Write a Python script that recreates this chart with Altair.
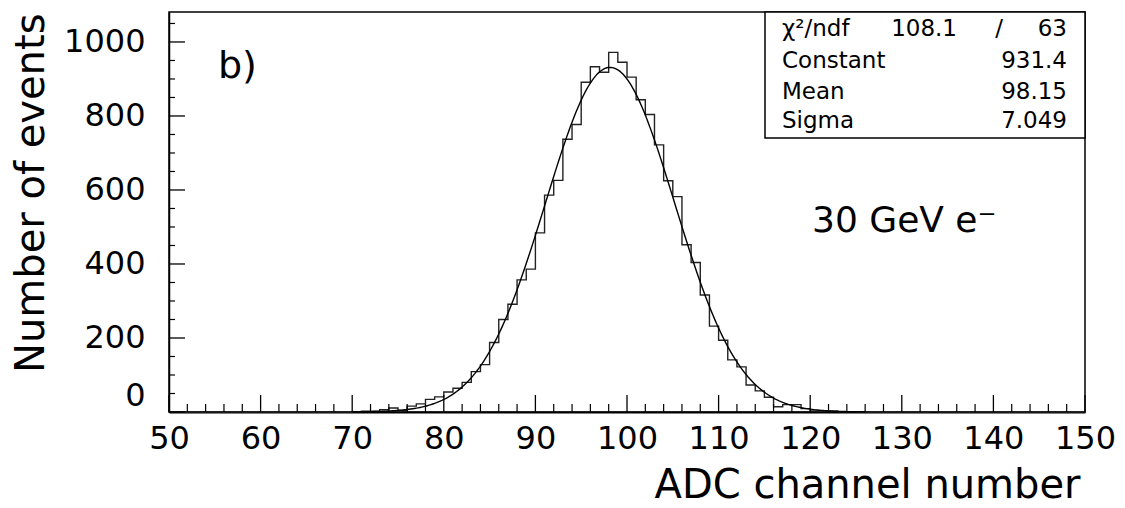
import altair as alt
import numpy as np
import pandas as pd

# ---- data ----
bin_edges_left = list(range(50, 150))          # 1-unit bins, 50..149
counts = (
    [0] * 20 +                                  # 50..69
    [1, 2, 2, 6, 11, 4, 16, 22, 34, 41,         # 70..79
     54, 64, 80, 109, 128, 188, 250, 291, 357, 386,   # 80..89
     484, 586, 626, 737, 777, 891, 933, 918, 972, 945,  # 90..99
     905, 844, 804, 722, 625, 582, 452, 404, 316, 232,  # 100..109
     194, 141, 122, 73, 57, 40, 14, 20, 20, 9,          # 110..119
     3, 2, 2, 1, 1, 0, 0, 0, 0, 0,                      # 120..129
     0, 0, 0, 1, 0, 0, 0, 0, 0, 0,                      # 130..139
     0, 0, 0, 0, 0, 0, 0, 0, 0, 0]                      # 140..149
)

# fit parameters shown in the stats box
fit_constant = 931.4
fit_mean = 98.15
fit_sigma = 7.049
fit_range = [70, 126]

stat_names = ["χ²/ndf", "Constant", "Mean", "Sigma"]
stat_values = ["63", "931.4", "98.15", "7.049"]
chi2_value = "108.1"

x_major = [50, 60, 70, 80, 90, 100, 110, 120, 130, 140, 150]
x_minor = [v for v in range(50, 151, 2) if v % 10 != 0]
y_major = [0, 200, 400, 600, 800, 1000]
y_minor = [v for v in range(50, 1051, 50) if v % 200 != 0]

# ---- tables ----
hist_df = pd.DataFrame({"x": bin_edges_left + [150], "y": counts + [counts[-1]]})
fx = np.arange(fit_range[0], fit_range[1] + 0.001, 0.2)
fit_df = pd.DataFrame({"x": fx, "y": fit_constant * np.exp(-0.5 * ((fx - fit_mean) / fit_sigma) ** 2)})

W, H = 916, 400
FONT = "DejaVu Sans"
xs = alt.Scale(domain=[50, 150], nice=False, zero=False)
ys = alt.Scale(domain=[0, 1081], nice=False)

base_x = alt.X("x:Q", scale=xs, axis=alt.Axis(
    values=x_major, format="d", ticks=False, grid=False, labelPadding=11,
    labelFontSize=32, labelFont=FONT, labelColor="black", labelFlush=False,
    title="ADC channel number", titleFontSize=40, titleFont=FONT, titleFontWeight="normal",
    titleColor="black", titleX=911, titleY=85, titleAlign="right", titleBaseline="alphabetic",
    domainColor="black", domainWidth=2))
base_y = alt.Y("y:Q", scale=ys, axis=alt.Axis(
    values=y_major, format="d", ticks=False, grid=False, labelPadding=24,
    labelFontSize=32, labelFont=FONT, labelColor="black", labelFlush=True,
    title="Number of events", titleFontSize=40, titleFont=FONT, titleFontWeight="normal",
    titleColor="black", titleX=-126, titleY=1, titleAlign="right", titleBaseline="alphabetic",
    titleAngle=270, domainColor="black", domainWidth=1.5))

hist = alt.Chart(hist_df).mark_line(interpolate="step-after", color="#222222", strokeWidth=1.4).encode(
    x=base_x, y=base_y)
fit = alt.Chart(fit_df).mark_line(color="black", strokeWidth=1.4).encode(
    x=alt.X("x:Q", scale=xs), y=alt.Y("y:Q", scale=ys))

xmaj = alt.Chart(pd.DataFrame({"t": x_major})).mark_rule(color="black", strokeWidth=1.3).encode(
    x=alt.X("t:Q", scale=xs), y=alt.value(H), y2=alt.value(H - 17))
xmin = alt.Chart(pd.DataFrame({"t": x_minor})).mark_rule(color="black", strokeWidth=1.2).encode(
    x=alt.X("t:Q", scale=xs), y=alt.value(H), y2=alt.value(H - 8))
ymaj = alt.Chart(pd.DataFrame({"t": y_major})).mark_rule(color="black", strokeWidth=1.3).encode(
    y=alt.Y("t:Q", scale=ys), x=alt.value(0), x2=alt.value(16))
ymin = alt.Chart(pd.DataFrame({"t": y_minor})).mark_rule(color="black", strokeWidth=1.2).encode(
    y=alt.Y("t:Q", scale=ys), x=alt.value(0), x2=alt.value(6))

box = alt.Chart(pd.DataFrame({"a": [0]})).mark_rect(fill="white", stroke="black", strokeWidth=1.5).encode(
    x=alt.value(596), x2=alt.value(W), y=alt.value(0), y2=alt.value(126))

row_y = [24, 56, 87, 116]
texts = []
one = pd.DataFrame({"a": [0]})
for name, val, ry in zip(stat_names, stat_values, row_y):
    texts.append(alt.Chart(one).mark_text(align="left", baseline="alphabetic", fontSize=23, font=FONT,
                                          color="black").encode(x=alt.value(613), y=alt.value(ry), text=alt.value(name)))
    texts.append(alt.Chart(one).mark_text(align="right", baseline="alphabetic", fontSize=23, font=FONT,
                                          color="black").encode(x=alt.value(898), y=alt.value(ry), text=alt.value(val)))
texts.append(alt.Chart(one).mark_text(align="right", baseline="alphabetic", fontSize=23, font=FONT,
                                      color="black").encode(x=alt.value(788), y=alt.value(row_y[0]), text=alt.value(chi2_value)))
texts.append(alt.Chart(one).mark_text(align="center", baseline="alphabetic", fontSize=23, font=FONT,
                                      color="black").encode(x=alt.value(830), y=alt.value(row_y[0]), text=alt.value("/")))

label_b = alt.Chart(one).mark_text(align="left", baseline="alphabetic", fontSize=38, font=FONT,
                                   color="black").encode(x=alt.value(49), y=alt.value(66), text=alt.value("b)"))
label_e = alt.Chart(one).mark_text(align="left", baseline="alphabetic", fontSize=36, font=FONT,
                                   color="black").encode(x=alt.value(643), y=alt.value(220), text=alt.value("30 GeV e⁻"))

chart = alt.layer(hist, fit, xmaj, xmin, ymaj, ymin, box, *texts, label_b, label_e).properties(
    width=W, height=H,
    autosize=alt.AutoSizeParams(type="none"),
    padding={"left": 169, "top": 12, "right": 40, "bottom": 96},
    background="white",
).configure_view(stroke="black", strokeWidth=1.5)

chart.save("out.html", embed_options={"renderer": "svg", "actions": False})
